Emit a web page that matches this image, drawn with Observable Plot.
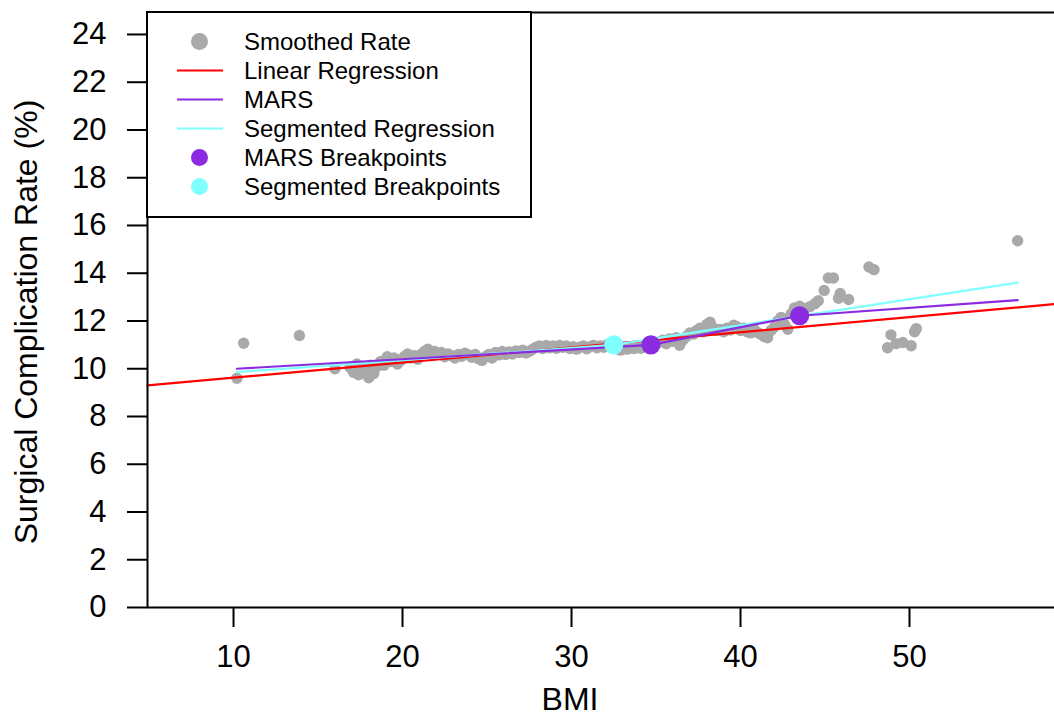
<!DOCTYPE html>
<html><head><meta charset="utf-8">
<script src="https://cdn.jsdelivr.net/npm/d3@7"></script>
<script src="https://cdn.jsdelivr.net/npm/@observablehq/plot@0.6"></script>
<style>
body{margin:0;background:#fff;}
#chart svg{display:block;}
</style></head><body><div id="chart"></div>
<script>
// Smoothed rate points (BMI, %)
const bmi = [10.2, 10.6, 13.9, 16.0,
  16.9, 17.1, 17.3, 17.4, 17.6, 17.8, 18.0, 18.1, 18.3, 18.5, 18.7, 18.9,
  19.1, 19.3, 19.5, 19.7, 19.9, 20.1,
  20.3, 20.5, 20.7, 20.9, 21.1, 21.3, 21.5, 21.7, 21.9, 22.1, 22.3,
  22.5, 22.7, 22.9, 23.1, 23.3, 23.5, 23.7, 23.9, 24.1, 24.3, 24.5, 24.7, 24.9,
  25.1, 25.3, 25.5, 25.7, 25.9, 26.1, 26.3, 26.5, 26.7, 26.9, 27.1, 27.3, 27.5, 27.7, 27.9,
  28.1, 28.3, 28.5, 28.7, 28.9, 29.1, 29.3, 29.5, 29.7, 29.9, 30.1, 30.3, 30.5, 30.7, 30.9, 31.1, 31.3, 31.5, 31.7, 31.9, 32.1, 32.3,
  32.7, 32.9, 33.1, 33.3, 33.5, 33.7, 33.9, 34.1, 34.3, 34.5, 34.8, 35.0,
  35.2, 35.4, 35.6, 35.8, 36.0, 36.2, 36.4, 36.6, 36.8, 37.0, 37.2, 37.4, 37.6, 37.8, 38.0, 38.2, 38.4,
  38.6, 38.8, 39.0, 39.2, 39.4, 39.6, 39.8, 40.0, 40.2, 40.4, 40.6, 40.8, 41.0, 41.2, 41.4, 41.6, 41.8, 42.0, 42.2, 42.4, 42.6, 42.8,
  43.0, 43.2, 43.5, 43.8, 44.1, 44.4, 44.6, 44.95, 45.2, 45.5,
  45.8, 45.9, 46.4, 47.6, 47.9, 48.7, 48.9, 49.2, 49.6, 50.1, 50.3, 50.4, 56.4];
const rate = [9.6, 11.07, 11.39, 10.0,
  10.05, 9.85, 10.2, 9.75, 10.0, 9.9, 9.62, 10.15, 9.8, 10.1, 10.3, 10.15,
  10.5, 10.3, 10.45, 10.2, 10.35, 10.5,
  10.62, 10.45, 10.55, 10.4, 10.6, 10.72, 10.82, 10.55, 10.72, 10.6, 10.68,
  10.5, 10.62, 10.55, 10.45, 10.6, 10.52, 10.65, 10.58, 10.48, 10.6, 10.42, 10.35, 10.5,
  10.6, 10.45, 10.68, 10.58, 10.72, 10.6, 10.7, 10.62, 10.75, 10.68, 10.78, 10.66, 10.72, 10.82, 10.9,
  10.95, 10.85, 10.98, 10.88, 10.95, 10.86, 10.98, 10.9, 10.95, 10.85, 10.92, 10.82, 10.9, 10.95, 10.84, 10.92, 10.98, 10.88, 10.95, 10.9, 11.0, 10.92,
  10.85, 10.78, 10.9, 10.82, 10.92, 10.85, 10.95, 10.86, 10.92, 10.98, 10.9, 11.05,
  11.12, 11.2, 11.05, 11.25, 11.15, 11.3, 10.98, 11.2, 11.35, 11.5, 11.45, 11.6, 11.7, 11.55, 11.85, 11.95, 11.7,
  11.6, 11.65, 11.55, 11.7, 11.62, 11.82, 11.75, 11.6, 11.7, 11.55, 11.5, 11.65, 11.52, 11.45, 11.35, 11.3, 11.6, 11.75, 12.0, 12.15, 11.85, 11.65,
  12.3, 12.55, 12.62, 12.5, 12.6, 12.72, 12.85, 13.28, 13.8, 13.8,
  12.95, 13.15, 12.9, 14.26, 14.15, 10.88, 11.42, 11.05, 11.1, 10.96, 11.55, 11.68, 15.36];

// Linear regression: intercept, slope
const linearCoef = [8.99, 0.0634];
// MARS fit vertices
const marsX = [10.2, 34.7, 43.5, 56.4];
const marsY = [10.0, 11.0, 12.22, 12.87];
const marsBreakX = [34.7, 43.5];
const marsBreakY = [11.0, 12.22];
// Segmented regression vertices
const segX = [10.2, 32.5, 56.4];
const segY = [9.86, 11.0, 13.61];
const segBreakX = [32.5];
const segBreakY = [11.0];

const xTicks = [10, 20, 30, 40, 50];
const yTicks = [0, 2, 4, 6, 8, 10, 12, 14, 16, 18, 20, 22, 24];
const xDomain = [4.91, 58.58];
const yDomain = [0, 24.92];

const legendLabels = ["Smoothed Rate", "Linear Regression", "MARS", "Segmented Regression", "MARS Breakpoints", "Segmented Breakpoints"];
const legendKinds = ["dot", "line", "line", "line", "dot", "dot"];
const legendColors = ["#a9a9a9", "#ff0000", "#8a2be2", "#80ffff", "#8a2be2", "#80ffff"];

const FONT = "'Liberation Sans', Arial, Helvetica, sans-serif";
const GRAY = "#a9a9a9", RED = "#ff0000", PURPLE = "#8a2be2", CYAN = "#80ffff";

const points = bmi.map((x, i) => ({x, y: rate[i]}));
const lr = xDomain.map(x => ({x, y: linearCoef[0] + linearCoef[1] * x}));
const mars = marsX.map((x, i) => ({x, y: marsY[i]}));
const seg = segX.map((x, i) => ({x, y: segY[i]}));
const marsB = marsBreakX.map((x, i) => ({x, y: marsBreakY[i]}));
const segB = segBreakX.map((x, i) => ({x, y: segBreakY[i]}));

const W = 1054, H = 716, ML = 147, MT = 12, MB = 109, MR = 0;

const chart = Plot.plot({
  width: W, height: H,
  marginLeft: ML, marginRight: MR, marginTop: MT, marginBottom: MB,
  style: {fontFamily: FONT, fontSize: "32px", background: "white", color: "black", overflow: "visible"},
  x: {domain: xDomain, label: null},
  y: {domain: yDomain, label: null},
  marks: [
    Plot.dot(points, {x: "x", y: "y", r: 5.7, fill: GRAY, stroke: "none"}),
    Plot.line(lr, {x: "x", y: "y", stroke: RED, strokeWidth: 2.2}),
    Plot.line(seg, {x: "x", y: "y", stroke: CYAN, strokeWidth: 2.2}),
    Plot.line(mars, {x: "x", y: "y", stroke: PURPLE, strokeWidth: 2.2}),
    Plot.dot(segB, {x: "x", y: "y", r: 9.6, fill: CYAN, stroke: "none"}),
    Plot.dot(marsB, {x: "x", y: "y", r: 9.6, fill: PURPLE, stroke: "none"}),
    Plot.axisX({ticks: xTicks, tickSize: 20, tickPadding: 17, strokeWidth: 2, fontSize: 31, label: null}),
    Plot.axisY({ticks: yTicks, tickSize: 20, tickPadding: 21, strokeWidth: 2, fontSize: 31, label: null}),
    Plot.ruleX([xDomain[0]], {stroke: "black", strokeWidth: 2}),
    Plot.ruleY([yDomain[0], yDomain[1]], {stroke: "black", strokeWidth: 2})
  ]
});

const svg = d3.select(chart);
// axis titles
svg.append("text").attr("x", 570).attr("y", 710).attr("text-anchor", "middle")
  .attr("font-family", FONT).attr("font-size", 32).attr("fill", "black").text("BMI");
svg.append("text").attr("transform", "translate(37,322) rotate(-90)").attr("text-anchor", "middle")
  .attr("font-family", FONT).attr("font-size", 32).attr("fill", "black").text("Surgical Complication Rate (%)");

// legend
const lg = svg.append("g").attr("font-family", FONT).attr("font-size", 24).attr("text-anchor", "start");
lg.append("rect").attr("x", 147).attr("y", 12).attr("width", 384).attr("height", 205)
  .attr("fill", "white").attr("stroke", "black").attr("stroke-width", 2);
const rowY0 = 41.5, rowDY = 29;
legendLabels.forEach((lab, i) => {
  const y = rowY0 + i * rowDY;
  if (legendKinds[i] === "dot") {
    lg.append("circle").attr("cx", 199.5).attr("cy", y).attr("r", 8.5).attr("fill", legendColors[i]);
  } else {
    lg.append("line").attr("x1", 177).attr("x2", 223).attr("y1", y).attr("y2", y)
      .attr("stroke", legendColors[i]).attr("stroke-width", 2);
  }
  lg.append("text").attr("x", 244).attr("y", y).attr("dy", "0.36em").attr("text-anchor", "start")
    .attr("fill", "black").text(lab);
});

document.getElementById("chart").appendChild(chart);
</script>
</body></html>
